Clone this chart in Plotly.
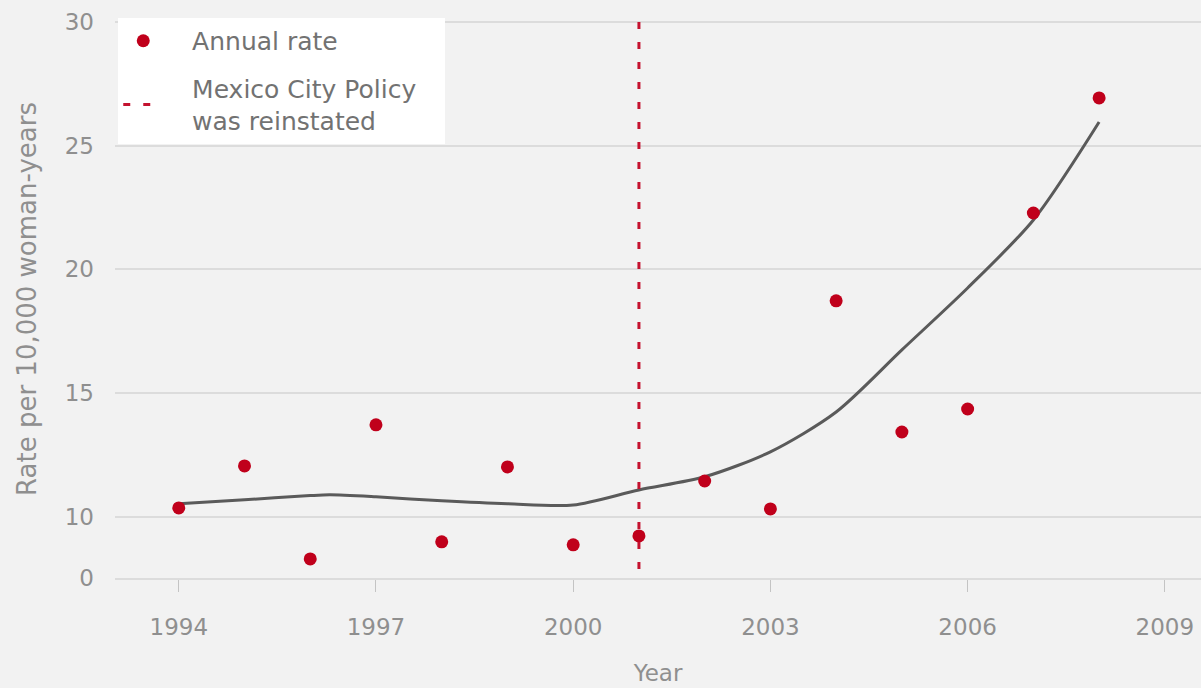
import plotly.graph_objects as go

# Data (y axis is broken: label "0" sits at axis value 7.53)
years = [1994, 1995, 1996, 1997, 1998, 1999, 2000, 2001, 2002, 2003, 2004, 2005, 2006, 2007, 2008]
annual_rate = [10.36, 12.06, 8.30, 13.72, 8.99, 12.02, 8.87, 9.23, 11.45, 10.32, 18.73, 13.43, 14.36, 22.28, 26.93]

trend_years = [1994, 1995, 1996, 1996.3, 1997, 1998, 1999, 2000, 2001, 2002, 2003, 2004, 2005, 2006, 2007, 2008]
trend_values = [10.53, 10.69, 10.86, 10.89, 10.81, 10.65, 10.53, 10.48, 11.09, 11.62, 12.63, 14.24, 16.75, 19.25, 22.0, 25.96]

policy_year = 2001
y_bottom, y_top = 7.53, 30

x_ticks = [1994, 1997, 2000, 2003, 2006, 2009]
y_tickvals = [7.53, 10, 15, 20, 25, 30]
y_ticktext = ["0", "10", "15", "20", "25", "30"]

RED = "#c0001b"
GREY_TXT = "#8f8f8f"
BG = "#f2f2f2"
FONT = "DejaVu Sans, Liberation Sans, sans-serif"
PAD = "\u00a0\u00a0\u00a0"

fig = go.Figure()

fig.add_trace(go.Scatter(
    x=trend_years, y=trend_values, mode="lines",
    line=dict(color="#5a5a5a", width=3, shape="spline", smoothing=0.8),
    showlegend=False, hoverinfo="skip"))

fig.add_trace(go.Scatter(
    x=years, y=annual_rate, mode="markers", name=PAD + "Annual rate",
    legendgroup="a",
    marker=dict(color=RED, size=13)))

fig.add_trace(go.Scatter(
    x=[policy_year, policy_year], y=[y_top, y_bottom], mode="lines",
    name=PAD + "Mexico City Policy\u00a0\u00a0\u00a0<br>" + PAD + "was reinstated",
    legendgroup="b",
    line=dict(color="#c4122f", width=3, dash="7px,13px")))

fig.update_layout(
    width=1201, height=688,
    paper_bgcolor=BG, plot_bgcolor=BG,
    margin=dict(l=115, r=0, t=20, b=110),
    font=dict(family=FONT, color=GREY_TXT, size=23),
    legend=dict(
        x=0.003, y=1.0036, xanchor="left", yanchor="top",
        bgcolor="white", borderwidth=0,
        font=dict(size=25, color="#727272"),
        itemwidth=40, tracegroupgap=12, traceorder="grouped",
    ),
    xaxis=dict(
        range=[1993.03, 2009.55], tickvals=x_ticks,
        ticks="outside", ticklen=12, tickcolor="#c4c4c4", tickwidth=1,
        ticklabelstandoff=16,
        showgrid=False, zeroline=False,
        showline=True, linecolor="#dcdcdc", linewidth=1.5,
        title=dict(text="Year", font=dict(size=23, color=GREY_TXT), standoff=26),
        tickfont=dict(size=23, color=GREY_TXT),
    ),
    yaxis=dict(
        range=[y_bottom, y_top + 0.08], tickvals=y_tickvals, ticktext=y_ticktext,
        showgrid=True, gridcolor="#dcdcdc", gridwidth=1.5,
        zeroline=False, showline=False, ticks="",
        ticklabelstandoff=20,
        title=dict(text="Rate per 10,000 woman-years", font=dict(size=26, color=GREY_TXT), standoff=20),
        tickfont=dict(size=23, color=GREY_TXT),
    ),
)

fig.write_html(
    "out.html",
    config={"displayModeBar": False},
    post_script="document.body.style.margin='0';document.body.style.background='" + BG + "';",
)
